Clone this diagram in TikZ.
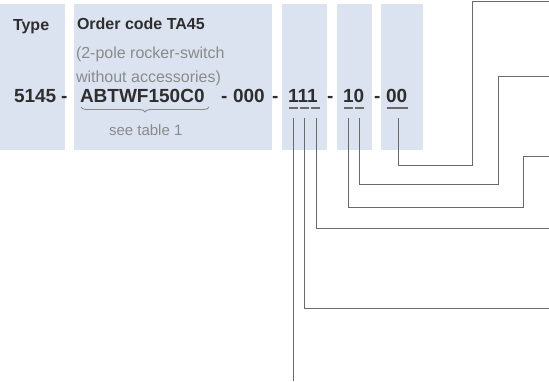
\documentclass[tikz,border=0pt]{standalone}
\usepackage{fontspec}
\setmainfont{Liberation Sans}
\usetikzlibrary{decorations.pathreplacing}

\definecolor{panelblue}{HTML}{DCE3F0}
\definecolor{darktext}{HTML}{2E2E2E}
\definecolor{greytext}{HTML}{8A8A8A}
\definecolor{wire}{HTML}{6A6A6A}

\begin{document}
\begin{tikzpicture}[x=1pt, y=-1pt,
  every node/.style={inner sep=0pt, outer sep=0pt, anchor=base west},
  head/.style={font=\fontsize{16}{19}\selectfont\bfseries, text=darktext},
  note/.style={font=\fontsize{16}{19}\selectfont, text=greytext},
  code/.style={font=\fontsize{19}{22}\selectfont\bfseries, text=darktext},
  uline/.style={draw=wire, line width=1.2pt},
  lead/.style={draw=wire, line width=0.9pt}]
\useasboundingbox (0,0) rectangle (549,381);

% panels
\fill[panelblue] (0,4) rectangle (65,150);
\fill[panelblue] (74,4) rectangle (272,150);
\fill[panelblue] (282,4) rectangle (327,150);
\fill[panelblue] (337,4) rectangle (372,150);
\fill[panelblue] (381,4) rectangle (423,150);

% headings
\node[head] (type) at (13,30) {Type};
\node[head] (order) at (77,29) {Order code TA45};
\node[note] (desc1) at (76,58) {(2-pole rocker-switch};
\node[note] (desc2) at (76,82) {without accessories)};

% code row
\node[code] (n5145) at (14,102) {5145};
\node[code] (s1) at (61,102) {-};
\node[code] (nabt) at (80,102) {ABTWF150C0};
\node[code] (s2) at (221,102) {-};
\node[code] (n000) at (233,102) {000};
\node[code] (s3) at (272,102) {-};
\node[code] (n111) at (288,102) {111};
\node[code] (s4) at (327,102) {-};
\node[code] (n10) at (343,102) {10};
\node[code] (s5) at (374,102) {-};
\node[code] (n00) at (386,102) {00};

% brace
\draw[draw=greytext, line width=0.9pt, decorate,
  decoration={brace, mirror, amplitude=5pt}] (81,107) -- (209,107);
\node[font=\fontsize{15}{18}\selectfont, text=greytext] (tab) at (109,135) {see table 1};

% underlines
\draw[uline] (289,108) -- (298,108);
\draw[uline] (300,108) -- (309,108);
\draw[uline] (311,108) -- (320,108);
\draw[uline] (344,108) -- (353,108);
\draw[uline] (355,108) -- (364,108);
\draw[uline] (387,108) -- (408,108);

% lead lines
\coordinate (a1) at (293,118);
\coordinate (a2) at (304,118);
\coordinate (a3) at (316,118);
\coordinate (b1) at (348,118);
\coordinate (b2) at (359,118);
\coordinate (c1) at (398,118);

\coordinate (e1) at (549,1);
\coordinate (e2) at (549,76);
\coordinate (e3) at (549,156);
\coordinate (e4) at (549,228);
\coordinate (e5) at (549,308);
\coordinate (e6) at (293,381);

\draw[lead] (c1) |- (472,165) |- (e1);
\draw[lead] (b2) |- (498,184) |- (e2);
\draw[lead] (b1) |- (523,207) |- (e3);
\draw[lead] (a3) |- (e4);
\draw[lead] (a2) |- (e5);
\draw[lead] (a1) -- (e6);
\end{tikzpicture}
\end{document}
